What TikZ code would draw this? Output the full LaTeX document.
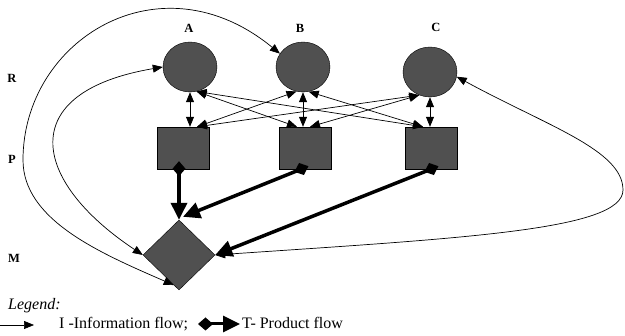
\documentclass[tikz,border=0pt]{standalone}
\usepackage{fontspec}
\setmainfont{Liberation Serif}
\usetikzlibrary{arrows.meta}
\usetikzlibrary{shapes.geometric}
\definecolor{boxgray}{RGB}{80,80,80}
\begin{document}
\begin{tikzpicture}[
		x=1pt, y=-1pt,
		res/.style={ellipse, draw, fill=boxgray, minimum width=54pt, minimum height=50pt, inner sep=0pt},
		proc/.style={rectangle, draw, fill=boxgray, minimum width=52pt, minimum height=42pt, inner sep=0pt},
		mach/.style={diamond, draw, fill=boxgray, minimum width=72pt, minimum height=70pt, inner sep=0pt},
		lbl/.style={font=\fontsize{12.5}{15}\selectfont\bfseries, inner sep=0pt},
		txt/.style={font=\fontsize{16}{19}\selectfont, inner sep=0pt},
		info/.style={line width=0.7pt, >={Triangle[length=10pt,width=8pt]}},
		prod/.style={line width=3.5pt, arrows={Diamond[length=15pt,width=13pt]-Triangle[length=17pt,width=16pt]}, shorten <=-8pt},
	]
		\useasboundingbox (0,0) rectangle (625,336);

		\node[res] (rA) at (190,67) {};
		\node[res] (rB) at (303,67) {};
		\node[res] (rC) at (430,72) {};
		\node[proc] (pA) at (183,148) {};
		\node[proc] (pB) at (305,148) {};
		\node[proc] (pC) at (431,148) {};
		\node[mach] (m) at (179,255) {};

		\node[lbl] (lA) at (189,28) {A};
		\node[lbl] (lB) at (300,28) {B};
		\node[lbl] (lC) at (436,27) {C};
		\node[lbl] (lR) at (12,78) {R};
		\node[lbl] (lP) at (12,159) {P};
		\node[lbl] (lM) at (14,258) {M};

		\draw[info, <->] (rA.south) -- (rA.south|-pA.north);
		\draw[info, <->] (rB.south) -- (rB.south|-pB.north);
		\draw[info, <->] (rC.south) -- (rC.south|-pC.north);
		\draw[info, <->] (rA.-75) -- ([xshift=-8pt]pB.north);
		\draw[info, <->] (rA.-75) -- ([xshift=-8pt]pC.north);
		\draw[info, <->] (rB.255) -- ([xshift=14pt]pA.north);
		\draw[info, <->] (rB.-77) -- ([xshift=-8pt]pC.north);
		\draw[info, <->] (rC.245) -- ([xshift=14pt]pA.north);
		\draw[info, <->] (rC.245) -- ([xshift=5pt]pB.north);

		\draw[prod] (m.north|-pA.south) -- (m.north);
		\draw[prod] ([xshift=-4pt]pB.south) -- ([xshift=4pt,yshift=3pt]m.north);
		\draw[prod] (pC.south) -- (m.east);

		\coordinate (loopL) at (23,160);
		\coordinate (loopR) at (623,190);
		\draw[info, <->] (m.west) .. controls (30,180) and (15,92) .. (rA.west);
		\draw[info, <->] (m.-100) .. controls (100,253) and (23,220) .. (loopL) .. controls (23,40) and (160,-45) .. (rB.150);
		\draw[info, <->] (m.east) .. controls (465,238) and (623,230) .. (loopR) .. controls (623,150) and (547,126) .. (rC.-10);

		\node[txt, anchor=base west, font=\fontsize{16}{19}\selectfont\itshape] (leg) at (8,310) {Legend:};
		\coordinate (iS) at (0,325);
		\coordinate (iE) at (34,325);
		\draw[info, ->] (iS) -- (iE);
		\node[txt, anchor=base west] (infoT) at (59,329) {I -Information flow;};
		\coordinate (tS) at (198,324);
		\coordinate (tE) at (240,324);
		\draw[prod, line width=3pt, shorten <=0pt] (tS) -- (tE);
		\node[txt, anchor=base west] (prodT) at (242,329) {T- Product flow};
	\end{tikzpicture}
\end{document}
